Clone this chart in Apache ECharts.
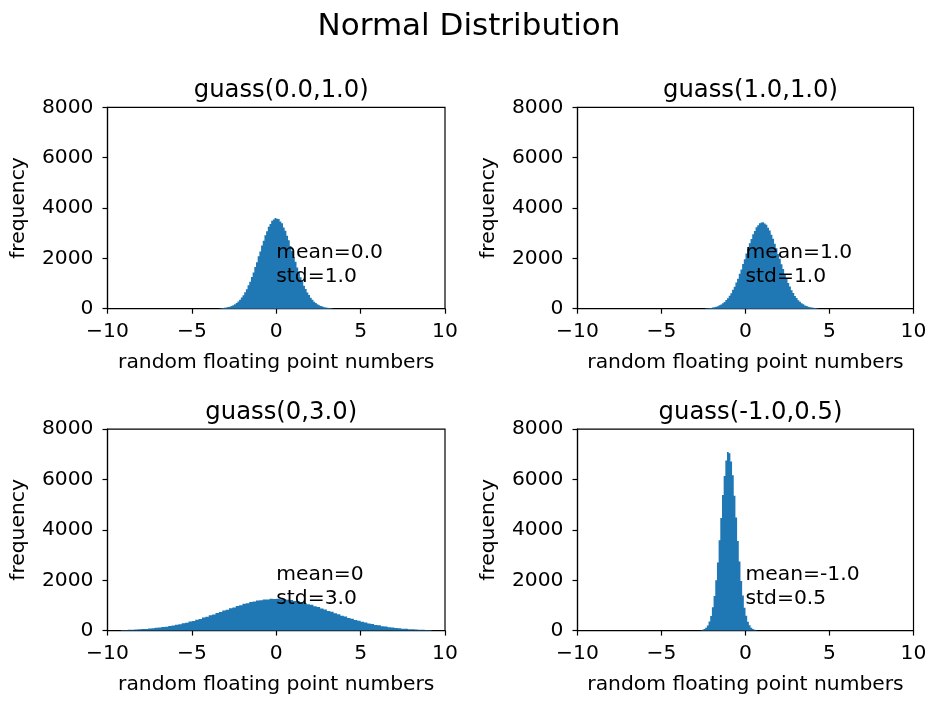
<!DOCTYPE html>
<html>
<head>
<meta charset="utf-8">
<script src="https://cdn.jsdelivr.net/npm/echarts@6/dist/echarts.min.js"></script>
<style>
html,body{margin:0;padding:0;background:#fff;}
#chart{width:934px;height:709px;}
</style>
</head>
<body>
<div id="chart"></div>
<script>
// ---------- data ----------
const suptitle = 'Normal Distribution';
const titles = ['guass(0.0,1.0)', 'guass(1.0,1.0)', 'guass(0,3.0)', 'guass(-1.0,0.5)'];
const notes = ['mean=0.0\nstd=1.0', 'mean=1.0\nstd=1.0', 'mean=0\nstd=3.0', 'mean=-1.0\nstd=0.5'];
const notePoint = [0, 1000];
const xTicks = [-10, -5, 0, 5, 10];
const yTicks = [0, 2000, 4000, 6000, 8000];
const xLabel = 'random floating point numbers';
const yLabel = 'frequency';

// histogram bins: first edge, bin width, counts
const binStart = [-3.4, -2.4, -9.2, -2.9];
const binWidth = [0.1, 0.1, 0.2, 0.1];
const counts1 = [12,19,24,36,44,64,80,110,136,181,224,290,352,445,530,655,770,928,1072,1262,1436,1652,1845,2080,2275,2515,2698,2920,3075,3260,3365,3495,3540,3600,
  3570,3560,3465,3390,3230,3098,2895,2722,2490,2296,2058,1866,1635,1450,1246,1088,912,784,642,541,433,360,281,230,175,142,104,84,60,47,33,26,17,12];
const counts2 = [13,16,25,32,45,57,80,100,135,168,220,270,344,415,518,612,748,872,1038,1190,1385,1562,1778,1968,2192,2380,2596,2765,2955,3090,3232,3315,3398,3420,
  3435,3385,3330,3215,3105,2940,2782,2580,2398,2176,1982,1764,1578,1372,1205,1025,885,736,625,508,424,338,276,214,172,131,104,78,61,43,34,23,18,11];
const counts3 = [24,25,33,36,46,50,62,68,84,90,110,120,145,157,185,201,235,254,293,316,360,386,434,465,518,549,607,640,700,735,796,830,892,922,982,1008,1065,1088,1140,1152,1198,1205,1240,1238,1262,1252,
  1266,1248,1250,1224,1215,1180,1166,1122,1100,1048,1022,966,934,876,842,781,746,686,652,594,560,505,474,422,394,348,325,282,262,226,208,177,163,137,126,104,95,78,72,58,52,42,38,30,27,20];
const counts4 = [4,8,14,33,60,118,202,360,578,930,1372,1996,2710,3590,4470,5390,6140,6760,7090,7040,6720,6170,5355,4495,3560,2740,1972,1390,912,590,350,210,112,63,30,16,6,3];
const allCounts = [counts1, counts2, counts3, counts4];

// ---------- layout ----------
const FONT = 'DejaVu Sans';
const BLUE = '#1f77b4';
const grids = [
  {left: 107.5, top: 107.3, width: 337.5, height: 201.4},
  {left: 577.5, top: 107.3, width: 336, height: 201.4},
  {left: 107.5, top: 429.2, width: 337.5, height: 201.4},
  {left: 577.5, top: 429.2, width: 336, height: 201.4}
];

function binsOf(k) {
  const edge = i => Math.round((binStart[k] + i * binWidth[k]) * 1000) / 1000;
  return allCounts[k].map((c, i) => [edge(i), edge(i + 1), c]);
}

const fmtMinus = v => String(v).replace('-', '\u2212');

const option = {
  animation: false,
  backgroundColor: '#fff',
  title: [{
    text: suptitle, left: 464, top: 6, textAlign: 'center',
    textStyle: {fontFamily: FONT, fontSize: 31, fontWeight: 'normal', color: '#000'}
  }].concat(grids.map((g, k) => ({
    text: titles[k], left: g.left + g.width / 2, top: g.top - 34, textAlign: 'center',
    textStyle: {fontFamily: FONT, fontSize: 24.3, fontWeight: 'normal', color: '#000'}
  }))),
  grid: grids.map(g => Object.assign({
    show: true, borderColor: '#000', borderWidth: 1.2, backgroundColor: 'transparent',
    containLabel: false, outerBoundsMode: 'none'
  }, g)),
  xAxis: grids.map((g, k) => ({
    type: 'value', gridIndex: k, min: xTicks[0], max: xTicks[xTicks.length - 1], interval: xTicks[1] - xTicks[0],
    name: xLabel, nameLocation: 'middle', nameGap: 44,
    nameTextStyle: {fontFamily: FONT, fontSize: 20.3, color: '#000'},
    splitLine: {show: false},
    axisLine: {show: true, onZero: false, lineStyle: {color: '#000', width: 1.2}},
    axisTick: {show: true, inside: false, length: 5, lineStyle: {color: '#000', width: 1.2}},
    axisLabel: {fontFamily: FONT, fontSize: 20.3, color: '#000', margin: 13, formatter: fmtMinus, showMinLabel: true, showMaxLabel: true}
  })),
  yAxis: grids.map((g, k) => ({
    type: 'value', gridIndex: k, min: yTicks[0], max: yTicks[yTicks.length - 1], interval: yTicks[1] - yTicks[0],
    name: yLabel, nameLocation: 'middle', nameGap: 79, nameRotate: 90,
    nameTextStyle: {fontFamily: FONT, fontSize: 20.3, color: '#000'},
    splitLine: {show: false},
    axisLine: {show: true, onZero: false, lineStyle: {color: '#000', width: 1.2}},
    axisTick: {show: true, inside: false, length: 5, lineStyle: {color: '#000', width: 1.2}},
    axisLabel: {fontFamily: FONT, fontSize: 20.3, color: '#000', margin: 14, formatter: v => String(v), showMinLabel: true, showMaxLabel: true}
  })),
  series: []
};

grids.forEach((g, k) => {
  const bins = binsOf(k);
  option.series.push({
    type: 'custom', xAxisIndex: k, yAxisIndex: k, silent: true, z: 2,
    data: bins,
    renderItem: function (params, api) {
      // the whole histogram outline is drawn as one filled polygon (no seams between bars)
      if (params.dataIndex !== 0) return null;
      const pts = [api.coord([bins[0][0], 0])];
      bins.forEach(b => {
        pts.push(api.coord([b[0], b[2]]));
        pts.push(api.coord([b[1], b[2]]));
      });
      pts.push(api.coord([bins[bins.length - 1][1], 0]));
      return {type: 'polygon', shape: {points: pts}, style: {fill: BLUE}};
    }
  });
  option.series.push({
    type: 'custom', xAxisIndex: k, yAxisIndex: k, silent: true, z: 10,
    data: [notePoint.concat([k])],
    renderItem: function (params, api) {
      const p = api.coord([api.value(0), api.value(1)]);
      return {
        type: 'text',
        x: p[0], y: p[1] + 5,
        style: {
          text: notes[api.value(2)], fill: '#000', font: '20.3px "DejaVu Sans"',
          lineHeight: 24, align: 'left', verticalAlign: 'bottom'
        }
      };
    }
  });
});

const chart = echarts.init(document.getElementById('chart'), null, {renderer: 'canvas'});
chart.setOption(option);
</script>
</body>
</html>
